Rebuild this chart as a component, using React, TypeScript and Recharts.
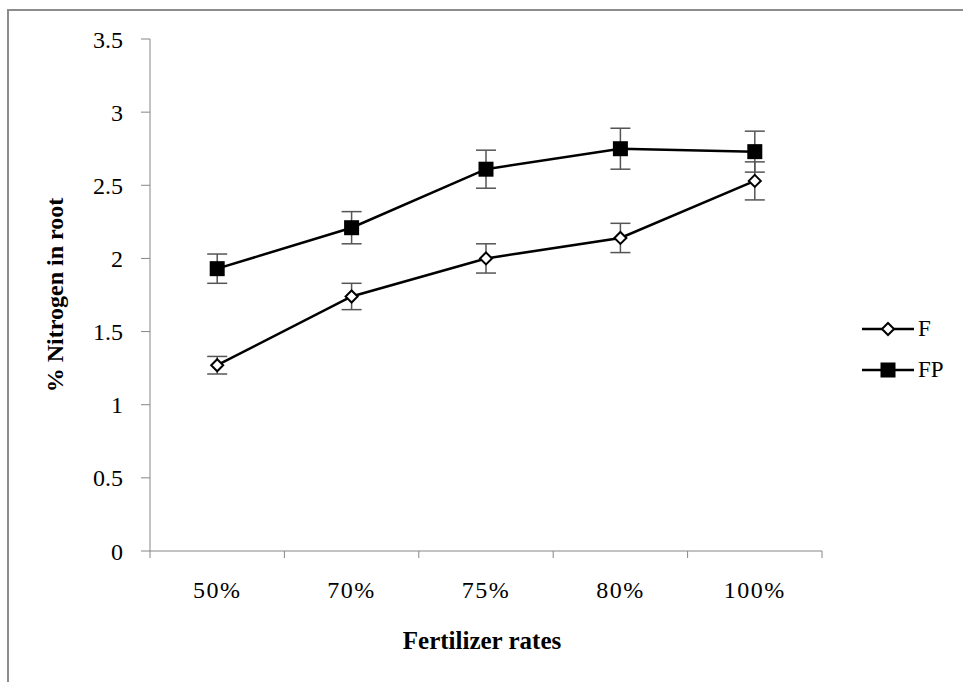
import React from 'react';
import {
  LineChart,
  Line,
  XAxis,
  YAxis,
  ErrorBar,
  Legend,
  Label,
} from 'recharts';

const categories = ['50%', '70%', '75%', '80%', '100%'];
const fValues = [1.27, 1.74, 2.0, 2.14, 2.53];
const fErrors = [0.06, 0.09, 0.1, 0.1, 0.13];
const fpValues = [1.93, 2.21, 2.61, 2.75, 2.73];
const fpErrors = [0.1, 0.11, 0.13, 0.14, 0.14];
const yTicks = [0, 0.5, 1, 1.5, 2, 2.5, 3, 3.5];

const data = categories.map((rate, i) => ({
  rate,
  F: fValues[i],
  fErr: fErrors[i],
  FP: fpValues[i],
  fpErr: fpErrors[i],
}));

const FONT = '"Liberation Serif", "Times New Roman", serif';
const AXIS_COLOR = '#868686';
const WIDTH = 963;
const HEIGHT = 682;
const MARGIN = { top: 39, right: 141, bottom: 31, left: 90 };
const Y_AXIS_WIDTH = 60;
const PLOT_WIDTH = WIDTH - MARGIN.left - Y_AXIS_WIDTH - MARGIN.right;
const BAND = PLOT_WIDTH / categories.length;

const Diamond = ({ cx, cy, r = 6 }: { cx: number; cy: number; r?: number }) => (
  <polygon
    points={`${cx},${cy - r} ${cx + r},${cy} ${cx},${cy + r} ${cx - r},${cy}`}
    fill="#fff"
    stroke="#000"
    strokeWidth={2}
  />
);

const Square = ({ cx, cy, s = 7.5 }: { cx: number; cy: number; s?: number }) => (
  <rect x={cx - s} y={cy - s} width={s * 2} height={s * 2} fill="#000" />
);

// category ticks sit between the bands, labels in the middle
const RateTick = (props: any) => {
  const { x, y, payload, index } = props;
  const last = index === categories.length - 1;
  return (
    <g>
      <line x1={x - BAND / 2} y1={y} x2={x - BAND / 2} y2={y + 7} stroke={AXIS_COLOR} />
      {last && <line x1={x + BAND / 2} y1={y} x2={x + BAND / 2} y2={y + 7} stroke={AXIS_COLOR} />}
      <text
        x={x}
        y={y + 47}
        textAnchor="middle"
        fontFamily={FONT}
        fontSize={24}
        letterSpacing={1.5}
        fill="#000"
      >
        {payload.value}
      </text>
    </g>
  );
};

const seriesKeys = [
  { name: 'F', marker: 'diamond' },
  { name: 'FP', marker: 'square' },
];

const LegendContent = () => (
  <div style={{ fontFamily: FONT, fontSize: 23, color: '#000' }}>
    {seriesKeys.map((s) => (
      <div key={s.name} style={{ display: 'flex', alignItems: 'center', height: 41 }}>
        <svg width={56} height={20}>
          <line x1={2} y1={10} x2={54} y2={10} stroke="#000" strokeWidth={2.5} />
          {s.marker === 'diamond' ? <Diamond cx={28} cy={10} r={6} /> : <Square cx={28} cy={10} s={7.5} />}
        </svg>
        <span style={{ marginLeft: 2 }}>{s.name}</span>
      </div>
    ))}
  </div>
);

export default function App() {
  return (
    <div style={{ position: 'absolute', left: 0, top: 0, width: WIDTH, height: HEIGHT, background: '#fff' }}>
      <div
        style={{
          position: 'absolute',
          left: 7,
          top: 9,
          width: WIDTH,
          height: HEIGHT,
          borderTop: '2px solid #8c8c8c',
          borderLeft: '2px solid #8c8c8c',
        }}
      />
      <div style={{ position: 'absolute', left: 0, top: 0 }}>
        <LineChart width={WIDTH} height={HEIGHT} data={data} margin={MARGIN}>
          <XAxis
            dataKey="rate"
            scale="band"
            height={100}
            stroke={AXIS_COLOR}
            tickLine={false}
            tickSize={0}
            tickMargin={0}
            tick={<RateTick />}
            interval={0}
          >
            <Label
              content={({ viewBox }: any) => (
                <text
                  x={viewBox.x + viewBox.width / 2 - 4}
                  y={viewBox.y + 98}
                  textAnchor="middle"
                  fontFamily={FONT}
                  fontSize={25}
                  fontWeight="bold"
                  fill="#000"
                >
                  Fertilizer rates
                </text>
              )}
            />
          </XAxis>
          <YAxis
            width={Y_AXIS_WIDTH}
            domain={[0, 3.5]}
            ticks={yTicks}
            stroke={AXIS_COLOR}
            tickSize={9}
            tickMargin={18}
            tick={{ fontFamily: FONT, fontSize: 24, fill: '#000' }}
          >
            <Label
              content={({ viewBox }: any) => {
                const cx = viewBox.x - 27;
                const cy = viewBox.y + viewBox.height / 2;
                return (
                  <text
                    x={cx}
                    y={cy}
                    transform={`rotate(-90 ${cx} ${cy})`}
                    textAnchor="middle"
                    fontFamily={FONT}
                    fontSize={24}
                    fontWeight="bold"
                    fill="#000"
                  >
                    % Nitrogen in root
                  </text>
                );
              }}
            />
          </YAxis>
          <Legend
            layout="horizontal"
            align="center"
            verticalAlign="middle"
            content={<LegendContent />}
            wrapperStyle={{ left: 860, top: 308, width: 100 }}
          />
          <Line
            dataKey="F"
            stroke="#000"
            strokeWidth={2.5}
            isAnimationActive={false}
            dot={(p: any) => <Diamond key={`f-${p.index}`} cx={p.cx} cy={p.cy} />}
            activeDot={false}
          >
            <ErrorBar dataKey="fErr" width={10} stroke="#555" strokeWidth={1.5} isAnimationActive={false} />
          </Line>
          <Line
            dataKey="FP"
            stroke="#000"
            strokeWidth={2.5}
            isAnimationActive={false}
            dot={(p: any) => <Square key={`fp-${p.index}`} cx={p.cx} cy={p.cy} />}
            activeDot={false}
          >
            <ErrorBar dataKey="fpErr" width={10} stroke="#555" strokeWidth={1.5} isAnimationActive={false} />
          </Line>
        </LineChart>
      </div>
    </div>
  );
}
